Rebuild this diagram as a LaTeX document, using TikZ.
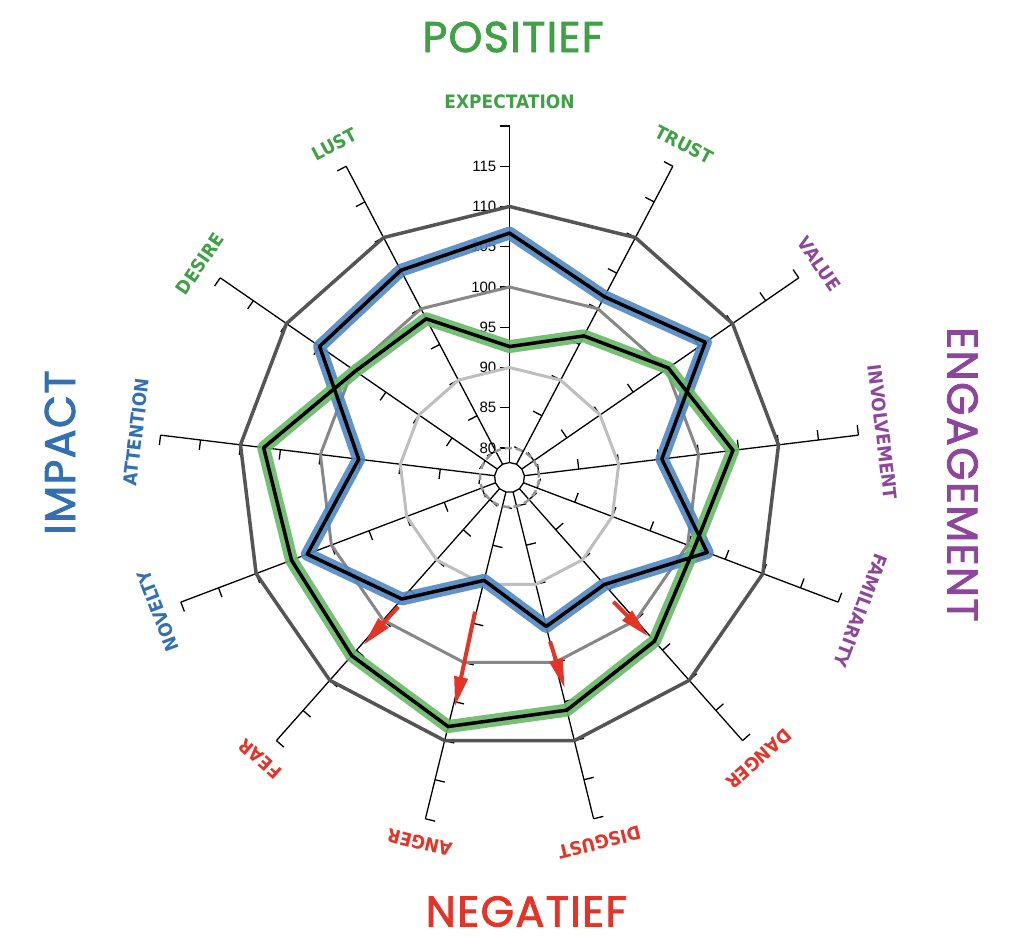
\documentclass[tikz,border=0pt]{standalone}
\usepackage{fontspec}
\setmainfont{Liberation Sans}
\newfontfamily\labelfont[FakeStretch=0.92]{DejaVu Sans}
\newfontfamily\titlefont[LetterSpace=3, FakeBold=2]{Poppins}
\usetikzlibrary{arrows.meta}

\definecolor{posgreen}{RGB}{64,160,70}
\definecolor{engpurple}{RGB}{140,70,155}
\definecolor{negred}{RGB}{228,52,40}
\definecolor{impblue}{RGB}{50,112,178}
\definecolor{bandblue}{RGB}{80,134,194}
\definecolor{bandgreen}{RGB}{104,184,104}

\tikzset{
  axisline/.style={black, line width=1.3},
  ringdark/.style={draw={rgb,255:red,85;green,85;blue,85}, line width=3.5},
  ringmid/.style={draw={rgb,255:red,135;green,135;blue,135}, line width=3},
  ringlight/.style={draw={rgb,255:red,190;green,190;blue,190}, line width=3},
  ringdash/.style={draw={rgb,255:red,150;green,150;blue,150}, line width=2.5, dash pattern=on 7pt off 4pt},
  blueband/.style={draw=bandblue, line width=13, line join=round, opacity=.9},
  greenband/.style={draw=bandgreen, line width=13, line join=round, opacity=.9},
  seriesline/.style={draw=black, line width=3.5, line join=round},
  redarrow/.style={draw=negred, line width=4, -{Triangle[length=30pt,width=13pt]}},
  axislabel/.style={font=\labelfont\bfseries\fontsize{18.5}{20}\selectfont, inner sep=0},
  ticknum/.style={font=\fontsize{15}{17}\selectfont, anchor=east, inner sep=0},
  bigtitle/.style={font=\titlefont\fontsize{43}{46}\selectfont, inner sep=0}
}

\def\blueval{106.7,101.7,105.9,95.4,102.6,94.1,95.4,89.5,96.5,103.2,95.2,105,105.4}
\def\greenval{92.6,96.2,100.3,104.3,100.9,103.5,106.1,108.2,105.9,105.3,107.1,99.6,98.6}

\begin{document}
\begin{tikzpicture}[x=1pt,y=1pt]
	\useasboundingbox (-509.5,-469.5) rectangle (514.5,477.5);
	% axes with ticks and labels
	\foreach \lab/\col [count=\k from 0] in {EXPECTATION/posgreen, TRUST/posgreen, VALUE/engpurple,
			INVOLVEMENT/engpurple, FAMILIARITY/engpurple, DANGER/negred, DISGUST/negred, ANGER/negred,
			FEAR/negred, NOVELTY/impblue, ATTENTION/impblue, DESIRE/posgreen, LUST/posgreen} {
		\pgfmathsetmacro\a{90-\k*360/13}
		\draw [axisline] (\a:15) -- (\a:351.5);
		\foreach \v in {80,85,...,120} {
			\draw [axisline] (\a:{29.5+8.05*(\v-80)}) -- ++({\a+90}:10);
		}
		\node [axislabel, text=\col, rotate=\a-90] (lab\k) at (\a:376) {\lab};
	}
	\draw [axisline] (90:15) \foreach \k in {1,...,12} {-- ({90-\k*360/13}:15)} -- cycle;
	\foreach \v in {80,85,...,115} {
		\node [ticknum] (num\v) at (-13,{29.5+8.05*(\v-80)}) {\v};
	}
	% rings
	\draw [ringdash] (0,0) circle (29.5);
	\foreach \v/\sty in {90/ringlight, 100/ringmid, 110/ringdark} {
		\draw [\sty] (90:{29.5+8.05*(\v-80)}) \foreach \k in {1,...,12} {-- ({90-\k*360/13}:{29.5+8.05*(\v-80)})} -- cycle;
	}
	% series
	\foreach \v [count=\k from 0] in \blueval {
		\coordinate (b\k) at ({90-\k*360/13}:{29.5+8.05*(\v-80)});
	}
	\foreach \v [count=\k from 0] in \greenval {
		\coordinate (g\k) at ({90-\k*360/13}:{29.5+8.05*(\v-80)});
	}
	\draw [blueband] (b0) \foreach \k in {1,...,12} {-- (b\k)} -- cycle;
	\draw [greenband] (g0) \foreach \k in {1,...,12} {-- (g\k)} -- cycle;
	\draw [seriesline] (b0) \foreach \k in {1,...,12} {-- (b\k)} -- cycle;
	\draw [seriesline] (g0) \foreach \k in {1,...,12} {-- (g\k)} -- cycle;
	% arrows
	\coordinate (dangerS) at (-50.1:161.9);
	\coordinate (dangerE) at (-48.9:211.2);
	\coordinate (disgustS) at (-76.1:169);
	\coordinate (disgustE) at (-75.3:218);
	\coordinate (angerS) at (-104.4:138.6);
	\coordinate (angerE) at (-103.4:235.6);
	\coordinate (fearS) at (-130.7:170.5);
	\coordinate (fearE) at (-131.1:222.3);
	\draw [redarrow] (dangerS) -- (dangerE);
	\draw [redarrow] (disgustS) -- (disgustE);
	\draw [redarrow] (angerS) -- (angerE);
	\draw [redarrow] (fearS) -- (fearE);
	% titles
	\node [bigtitle, text=posgreen] (positief) at (3.5,440.5) {POSITIEF};
	\node [bigtitle, text=negred] (negatief) at (17,-434) {NEGATIEF};
	\node [bigtitle, text=impblue, rotate=90] (impact) at (-449.5,25) {IMPACT};
	\node [bigtitle, text=engpurple, rotate=-90] (engagement) at (453,3) {ENGAGEMENT};
\end{tikzpicture}
\end{document}
